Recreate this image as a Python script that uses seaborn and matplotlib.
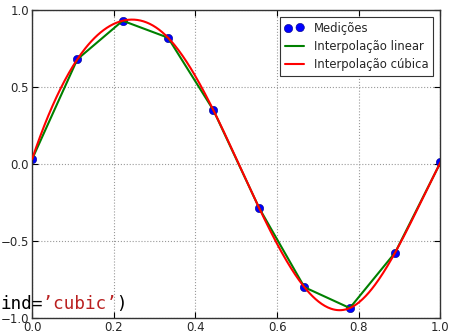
import numpy as np
import pandas as pd
import seaborn as sns
from matplotlib import pyplot as plt

x_pts = [0.0, 0.111, 0.222, 0.333, 0.444, 0.556, 0.667, 0.778, 0.889, 1.0]
y_pts = [0.03, 0.68, 0.93, 0.82, 0.35, -0.285, -0.80, -0.935, -0.575, 0.01]

x_ticks = [0.0, 0.2, 0.4, 0.6, 0.8, 1.0]
y_ticks = [-1.0, -0.5, 0.0, 0.5, 1.0]
labels = ['Medições', 'Interpolação linear', 'Interpolação cúbica']


def cubic_spline(x, y, xs):
    # not-a-knot cubic spline (same as interp1d kind='cubic')
    x = np.asarray(x, float)
    y = np.asarray(y, float)
    n = len(x)
    h = np.diff(x)
    A = np.zeros((n, n))
    b = np.zeros(n)
    A[0, 0], A[0, 1], A[0, 2] = -1 / h[0], 1 / h[0] + 1 / h[1], -1 / h[1]
    A[-1, -3], A[-1, -2], A[-1, -1] = -1 / h[-2], 1 / h[-2] + 1 / h[-1], -1 / h[-1]
    for i in range(1, n - 1):
        A[i, i - 1] = h[i - 1]
        A[i, i] = 2 * (h[i - 1] + h[i])
        A[i, i + 1] = h[i]
        b[i] = 6 * ((y[i + 1] - y[i]) / h[i] - (y[i] - y[i - 1]) / h[i - 1])
    M = np.linalg.solve(A, b)
    idx = np.clip(np.searchsorted(x, xs) - 1, 0, n - 2)
    hi = h[idx]
    a = x[idx + 1] - xs
    c = xs - x[idx]
    return (M[idx] * a**3 / (6 * hi) + M[idx + 1] * c**3 / (6 * hi)
            + (y[idx] / hi - M[idx] * hi / 6) * a
            + (y[idx + 1] / hi - M[idx + 1] * hi / 6) * c)


xs = np.linspace(0, 1, 400)
df_pts = pd.DataFrame({'x': x_pts, 'y': y_pts})
df_cub = pd.DataFrame({'x': xs, 'y': cubic_spline(x_pts, y_pts, xs)})

sns.set_style('white')
plt.rcParams['font.family'] = ['DejaVu Sans']

fig = plt.figure(figsize=(4.49, 3.32), dpi=100)
ax = fig.add_axes([0.0713, 0.042, 0.9097, 0.928])

sns.scatterplot(data=df_pts, x='x', y='y', color='blue', s=36,
                edgecolor='#000080', linewidth=0.4, label=labels[0], ax=ax, zorder=2)
sns.lineplot(data=df_pts, x='x', y='y', color='green', lw=1.5, sort=False,
             estimator=None, label=labels[1], ax=ax, zorder=3)
sns.lineplot(data=df_cub, x='x', y='y', color='red', lw=1.5, sort=False,
             estimator=None, label=labels[2], ax=ax, zorder=4)

ax.set_xlim(0, 1)
ax.set_ylim(-1, 1)
ax.set_xticks(x_ticks)
ax.set_yticks(y_ticks)
ax.set_xlabel('')
ax.set_ylabel('')
ax.grid(True, color='#999999', linestyle=':', linewidth=0.8)
ax.tick_params(direction='in', length=4, labelsize=8.5, color='black',
               top=True, right=True, bottom=True, left=True, pad=2)
for s in ax.spines.values():
    s.set_color('#333333')
    s.set_linewidth(1.0)

leg = ax.legend(loc='upper right', fontsize=8.4, frameon=True, fancybox=False,
                framealpha=1, edgecolor='#333333', scatterpoints=2,
                borderaxespad=0.6, handlelength=1.6, handletextpad=0.9,
                labelspacing=0.45, borderpad=0.4)
leg.get_frame().set_linewidth(0.8)

# code fragment overlapping the figure
fig.text(0.0, 0.07, "ind=", family='DejaVu Sans Mono', fontsize=12.7, color='black')
fig.text(0.0, 0.07, "    ’cubic’", family='DejaVu Sans Mono', fontsize=12.7, color='#BA2121')
fig.text(0.0, 0.07, "           )", family='DejaVu Sans Mono', fontsize=12.7, color='black')

fig.savefig('out.png', dpi=100)
